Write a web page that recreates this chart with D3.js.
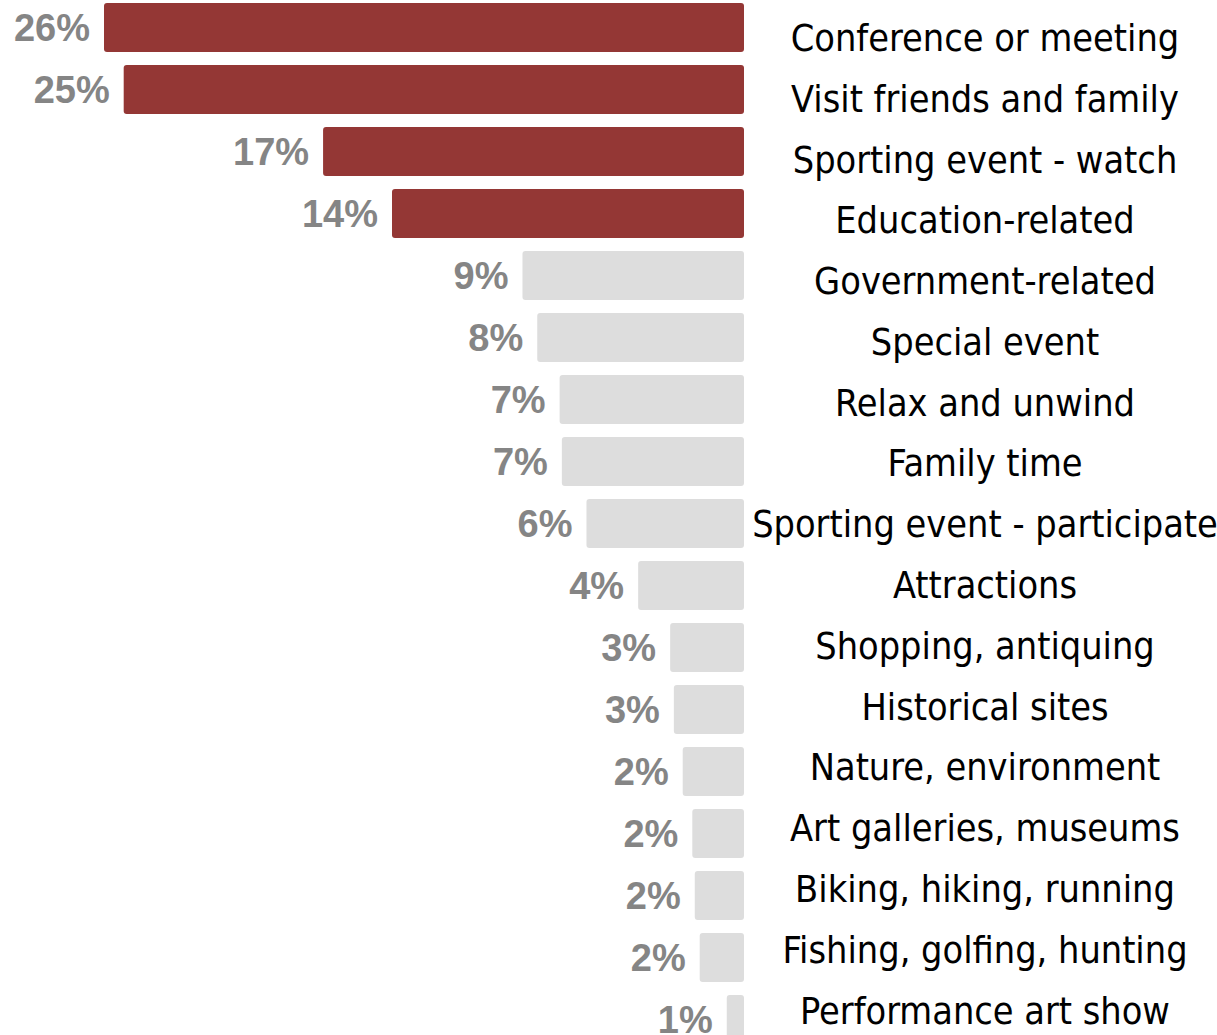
<!DOCTYPE html>
<html>
<head>
<meta charset="utf-8">
<script src="https://cdn.jsdelivr.net/npm/d3@7"></script>
<style>
  html, body { margin: 0; padding: 0; background: #fff; }
  svg { display: block; }
</style>
</head>
<body>
<svg id="chart" width="1217" height="1035"></svg>
<script>
// Reasons for the trip, share of visitors (%)
const categories = [
  "Conference or meeting",
  "Visit friends and family",
  "Sporting event - watch",
  "Education-related",
  "Government-related",
  "Special event",
  "Relax and unwind",
  "Family time",
  "Sporting event - participate",
  "Attractions",
  "Shopping, antiquing",
  "Historical sites",
  "Nature, environment",
  "Art galleries, museums",
  "Biking, hiking, running",
  "Fishing, golfing, hunting",
  "Performance art show"
];
const shares = [26.0, 25.2, 17.1, 14.3, 9.0, 8.4, 7.49, 7.4, 6.4, 4.3, 3.0, 2.85, 2.49, 2.1, 2.0, 1.8, 0.7];
// The top four reasons are highlighted
const highlighted = [true, true, true, true, false, false, false, false, false, false, false, false, false, false, false, false, false];

const data = categories.map((c, i) => ({ name: c, value: shares[i], hi: highlighted[i] }));

const svg = d3.select("#chart");

// Bars grow leftward from a common baseline
const x = d3.scaleLinear().domain([0, 26]).range([744, 104]);

const y = d3.scaleBand()
  .domain(categories)
  .range([3, 3 + 62 * 16 + 49])
  .paddingInner(13 / 62)
  .paddingOuter(0);

// Category labels sit in their own evenly spaced column
const yLabel = d3.scalePoint()
  .domain(categories)
  .range([37.5, 1010]);

const fmt = v => d3.format(".0f")(v) + "%";

svg.append("g")
  .selectAll("rect")
  .data(data)
  .join("rect")
  .attr("x", d => x(d.value))
  .attr("y", d => y(d.name))
  .attr("width", d => x(0) - x(d.value))
  .attr("height", y.bandwidth())
  .attr("rx", 3)
  .attr("ry", 3)
  .attr("fill", d => d.hi ? "#943735" : "#dddddd");

svg.append("g")
  .selectAll("text")
  .data(data)
  .join("text")
  .attr("x", d => x(d.value) - 14)
  .attr("y", d => y(d.name) + y.bandwidth() / 2)
  .attr("dy", "0.36em")
  .attr("text-anchor", "end")
  .attr("font-family", "'Liberation Sans', Arial, sans-serif")
  .attr("font-weight", "bold")
  .attr("font-size", 38)
  .attr("fill", "#858585")
  .text(d => fmt(d.value));

svg.append("g")
  .selectAll("text")
  .data(data)
  .join("text")
  .attr("x", 985)
  .attr("y", d => yLabel(d.name))
  .attr("dy", "0.36em")
  .attr("text-anchor", "middle")
  .attr("font-family", "'DejaVu Sans Condensed', 'DejaVu Sans', sans-serif")
  .style("font-stretch", "condensed")
  .attr("font-size", 37.5)
  .attr("fill", "#000")
  .text(d => d.name);
</script>
</body>
</html>
